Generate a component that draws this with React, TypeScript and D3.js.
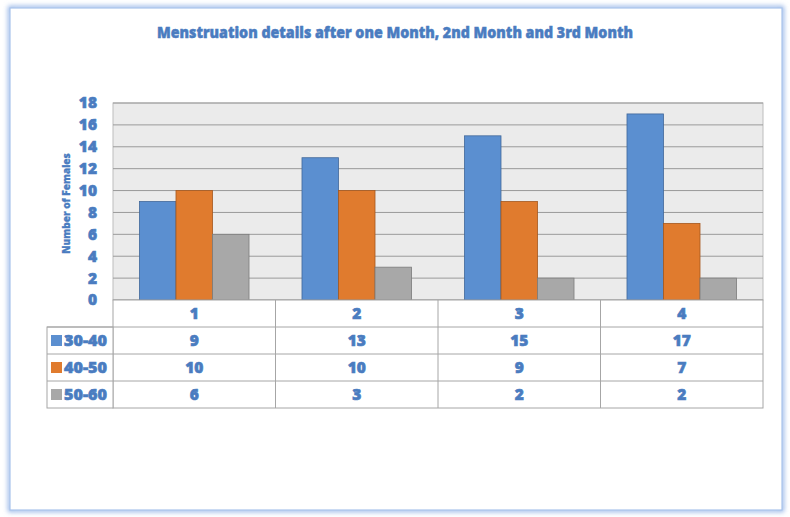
import * as d3 from "d3";
import React, { useEffect, useRef } from "react";

const categories = ["1", "2", "3", "4"];
const seriesNames = ["30-40", "40-50", "50-60"];
const s3040 = [9, 13, 15, 17];
const s4050 = [10, 10, 9, 7];
const s5060 = [6, 3, 2, 2];
const yTicks = [0, 2, 4, 6, 8, 10, 12, 14, 16, 18];
const colors = ["#5b8fd0", "#e07b2e", "#a8a8a8"];
const strokes = ["#41689a", "#a5581f", "#7c7c7c"];
const textBlue = "#4a7cc0";

export default function App() {
  const ref = useRef<SVGSVGElement>(null);

  useEffect(() => {
    const W = 790, H = 517;
    const left = 113, right = 763, top = 103, bottom = 300;
    const rowH = 27;
    const values = [s3040, s4050, s5060];

    const svg = d3.select(ref.current);
    svg.selectAll("*").remove();

    const defs = svg.append("defs");
    const f = defs.append("filter").attr("id", "glow").attr("x", "-5%").attr("y", "-5%").attr("width", "110%").attr("height", "110%");
    f.append("feGaussianBlur").attr("stdDeviation", 2.5);

    svg.append("rect").attr("width", W).attr("height", H).attr("fill", "#ffffff");
    // frame with soft glow
    svg.append("rect").attr("x", 10).attr("y", 8).attr("width", 772).attr("height", 502)
      .attr("fill", "none").attr("stroke", "#8fb0e6").attr("stroke-width", 4).attr("filter", "url(#glow)");
    svg.append("rect").attr("x", 10).attr("y", 8).attr("width", 772).attr("height", 502)
      .attr("fill", "#ffffff").attr("stroke", "#a9c3ec").attr("stroke-width", 1.2);

    const x0 = d3.scaleBand().domain(categories).range([left, right]).padding(0);
    const x1 = d3.scaleBand().domain(seriesNames)
      .range([x0.bandwidth() * 0.163, x0.bandwidth() * 0.837]).padding(0);
    const y = d3.scaleLinear().domain([0, 18]).range([bottom, top]);

    // plot background
    svg.append("rect").attr("x", left).attr("y", top).attr("width", right - left).attr("height", bottom - top)
      .attr("fill", "#ebebeb").attr("stroke", "#bdbdbd");

    svg.append("g").selectAll("line").data(yTicks).join("line")
      .attr("x1", left).attr("x2", right)
      .attr("y1", d => y(d)).attr("y2", d => y(d))
      .attr("stroke", "#9a9a9a").attr("stroke-width", 1);

    // bars
    const g = svg.append("g");
    seriesNames.forEach((s, si) => {
      g.selectAll(`rect.s${si}`).data(values[si]).join("rect")
        .attr("class", `s${si}`)
        .attr("x", (_, i) => (x0(categories[i]) as number) + (x1(s) as number))
        .attr("y", d => y(d))
        .attr("width", x1.bandwidth())
        .attr("height", d => y(0) - y(d))
        .attr("fill", colors[si])
        .attr("stroke", strokes[si]).attr("stroke-width", 0.8);
    });

    // heavy blue text, like the Excel glow style
    const heavy = (sel: any, size: number) => sel
      .attr("font-family", "'Open Sans', sans-serif").attr("font-weight", 800)
      .attr("font-size", size).attr("fill", textBlue)
      .attr("stroke", textBlue).attr("stroke-width", 0.6).attr("paint-order", "stroke");

    // y tick labels
    svg.append("g").selectAll("text").data(yTicks).join("text")
      .attr("x", 97).attr("y", d => y(d)).attr("dy", "0.35em")
      .attr("text-anchor", "end")
      .call(heavy, 15.5)
      .text(d => d);

    // y title
    svg.append("text")
      .attr("transform", `translate(70,${(top + bottom) / 2 + 2}) rotate(-90)`)
      .attr("text-anchor", "middle")
      .call(heavy, 10)
      .attr("font-family", "'Liberation Sans Narrow', 'Open Sans', sans-serif")
      .attr("stroke-width", 0.3)
      .text("Number of Females");

    // title
    svg.append("text")
      .attr("x", 395).attr("y", 38).attr("text-anchor", "middle")
      .call(heavy, 16.5)
      .attr("stroke-width", 0.5)
      .attr("textLength", 476).attr("lengthAdjust", "spacingAndGlyphs")
      .text("Menstruation details after one Month, 2nd Month and 3rd Month");

    // data table
    const tg = svg.append("g");
    const tableBottom = bottom + rowH * 4;
    tg.append("rect").attr("x", left).attr("y", bottom).attr("width", right - left).attr("height", rowH * 4)
      .attr("fill", "#ffffff").attr("stroke", "#a6a6a6");
    tg.append("rect").attr("x", 47).attr("y", bottom + rowH).attr("width", left - 47).attr("height", rowH * 3)
      .attr("fill", "#ffffff").attr("stroke", "#a6a6a6");
    [1, 2, 3].forEach(r => {
      tg.append("line").attr("x1", 47).attr("x2", right)
        .attr("y1", bottom + rowH * r).attr("y2", bottom + rowH * r)
        .attr("stroke", "#a6a6a6");
    });
    categories.forEach((c, i) => {
      if (i > 0) tg.append("line").attr("x1", x0(c) as number).attr("x2", x0(c) as number)
        .attr("y1", bottom).attr("y2", tableBottom).attr("stroke", "#a6a6a6");
    });

    const cellText = (sel: any) => sel
      .attr("text-anchor", "middle").attr("dy", "0.35em")
      .call(heavy, 15.5);

    tg.selectAll("text.cat").data(categories).join("text").attr("class", "cat")
      .attr("x", d => (x0(d) as number) + x0.bandwidth() / 2)
      .attr("y", bottom + rowH / 2)
      .call(cellText).text(d => d);

    seriesNames.forEach((s, si) => {
      const ry = bottom + rowH * (si + 1) + rowH / 2;
      tg.selectAll(`text.v${si}`).data(values[si]).join("text").attr("class", `v${si}`)
        .attr("x", (_, i) => (x0(categories[i]) as number) + x0.bandwidth() / 2)
        .attr("y", ry)
        .call(cellText).text(d => d);
      tg.append("rect").attr("x", 51).attr("y", ry - 5.5).attr("width", 11).attr("height", 11)
        .attr("fill", colors[si]);
      tg.append("text").attr("x", 64).attr("y", ry).attr("dy", "0.35em")
        .call(heavy, 15.5)
        .attr("textLength", 43).attr("lengthAdjust", "spacingAndGlyphs")
        .text(s);
    });
  }, []);

  return (
    <svg ref={ref} width={790} height={517}
      style={{ position: "absolute", left: 0, top: 0, display: "block" }} />
  );
}
